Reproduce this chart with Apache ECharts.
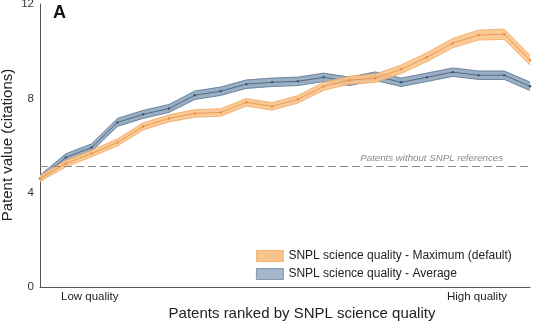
<!DOCTYPE html>
<html><head><meta charset="utf-8">
<script src="https://cdn.jsdelivr.net/npm/echarts@6/dist/echarts.min.js"></script>
<style>html,body{margin:0;padding:0;background:#fff}#c{width:537px;height:322px}</style>
</head><body><div id="c"></div>
<script>
var ranks = ['1','2','3','4','5','6','7','8','9','10','11','12','13','14','15','16','17','18','19','20'];
var maxMean = [4.6,5.23,5.66,6.13,6.81,7.15,7.36,7.40,7.83,7.66,7.96,8.51,8.77,8.85,9.23,9.74,10.34,10.68,10.72,9.62];
var maxCI   = [0.13,0.14,0.14,0.15,0.15,0.15,0.16,0.16,0.16,0.16,0.16,0.17,0.17,0.18,0.18,0.19,0.20,0.21,0.22,0.21];
var avgMean = [4.6,5.49,5.91,6.98,7.32,7.57,8.13,8.30,8.60,8.68,8.72,8.89,8.72,8.94,8.68,8.89,9.11,8.98,8.98,8.51];
var avgCI   = [0.14,0.16,0.16,0.17,0.17,0.17,0.18,0.18,0.18,0.18,0.18,0.18,0.18,0.18,0.18,0.18,0.18,0.18,0.18,0.18];
var yTicks = [0,4,8,12];
var baselineValue = 5.1;
var baselineLabel = 'Patents without SNPL references';
var xEndLabels = ['Low quality','High quality'];
var nameMax = 'SNPL science quality - Maximum (default)';
var nameAvg = 'SNPL science quality - Average';
var xTitle = 'Patents ranked by SNPL science quality';
var yTitle = 'Patent value (citations)';

function lower(m,c){return m.map(function(v,i){return +(v-c[i]).toFixed(3);});}
function width(c){return c.map(function(v){return +(2*v).toFixed(3);});}

var FONT = 'Liberation Sans, Arial, sans-serif';
var O = {fill:'#f9c48e', edge:'#f2a65e', line:'#e98e3e'};
var B = {fill:'#8fa6be', edge:'#55728f', line:'#3e5874'};

function band(name, mean, ci, col, stackId, z){
  return [
    {type:'line', stack:stackId, data:lower(mean,ci), symbol:'none', silent:true, z:z,
     lineStyle:{color:col.edge, width:0.8}},
    {type:'line', name:name, stack:stackId, data:width(ci), symbol:'none', silent:true, z:z,
     lineStyle:{color:col.edge, width:0.8}, areaStyle:{color:col.fill, opacity:0.9}},
    {type:'line', data:mean, symbol:'circle', symbolSize:2.5, silent:true, z:z+1,
     itemStyle:{color:col.line}, lineStyle:{color:col.line, width:0.8}}
  ];
}

var series = [].concat(
  band(nameAvg, avgMean, avgCI, B, 'avg', 2),
  band(nameMax, maxMean, maxCI, O, 'max', 4)
);
series[0].markLine = {
  silent:true, symbol:'none',
  lineStyle:{color:'#8a8a8a', type:[8,4], width:1.2},
  label:{show:true, position:'insideEndTop', formatter:baselineLabel, fontFamily:FONT,
         fontStyle:'italic', fontSize:9.7, color:'#8a8a8a', distance:[27,3]},
  data:[{yAxis:baselineValue}]
};

var chart = echarts.init(document.getElementById('c'), null, {renderer:'canvas'});
chart.setOption({
  animation:false,
  textStyle:{fontFamily:FONT},
  grid:{left:40, right:7, top:4, bottom:35, outerBoundsMode:'none', containLabel:false},
  xAxis:{type:'category', data:ranks, boundaryGap:false,
    axisLine:{lineStyle:{color:'#555', width:1}}, axisTick:{show:false}, axisLabel:{show:false}},
  yAxis:{type:'value', min:yTicks[0], max:yTicks[yTicks.length-1], interval:4, splitLine:{show:false},
    axisLine:{show:true, lineStyle:{color:'#555', width:1}}, axisTick:{show:false},
    axisLabel:{fontSize:11.5, color:'#333', margin:6, fontFamily:FONT}},
  legend:{orient:'vertical', left:251, top:245, itemGap:6, itemWidth:27, itemHeight:11,
    textStyle:{fontSize:12, color:'#222', fontFamily:FONT},
    data:[{name:nameMax, icon:'rect', itemStyle:{color:O.fill, borderColor:O.edge, borderWidth:0.8}},
          {name:nameAvg, icon:'rect', itemStyle:{color:'#a3b6ca', borderColor:'#6f88a2', borderWidth:0.8}}]},
  graphic:[
    {type:'text', left:53, top:4, style:{text:'A', font:'bold 18px '+FONT, fill:'#111'}},
    {type:'text', left:61, top:291, style:{text:xEndLabels[0], font:'11.5px '+FONT, fill:'#222'}},
    {type:'text', left:447, top:291, style:{text:xEndLabels[1], font:'11.5px '+FONT, fill:'#222'}},
    {type:'text', x:302, y:306, style:{text:xTitle, font:'15px '+FONT, fill:'#222', textAlign:'center'}},
    {type:'text', x:8, y:145, rotation:Math.PI/2,
     style:{text:yTitle, font:'15px '+FONT, fill:'#222', textAlign:'center', textVerticalAlign:'middle'}}
  ],
  series:series
});
</script></body></html>
